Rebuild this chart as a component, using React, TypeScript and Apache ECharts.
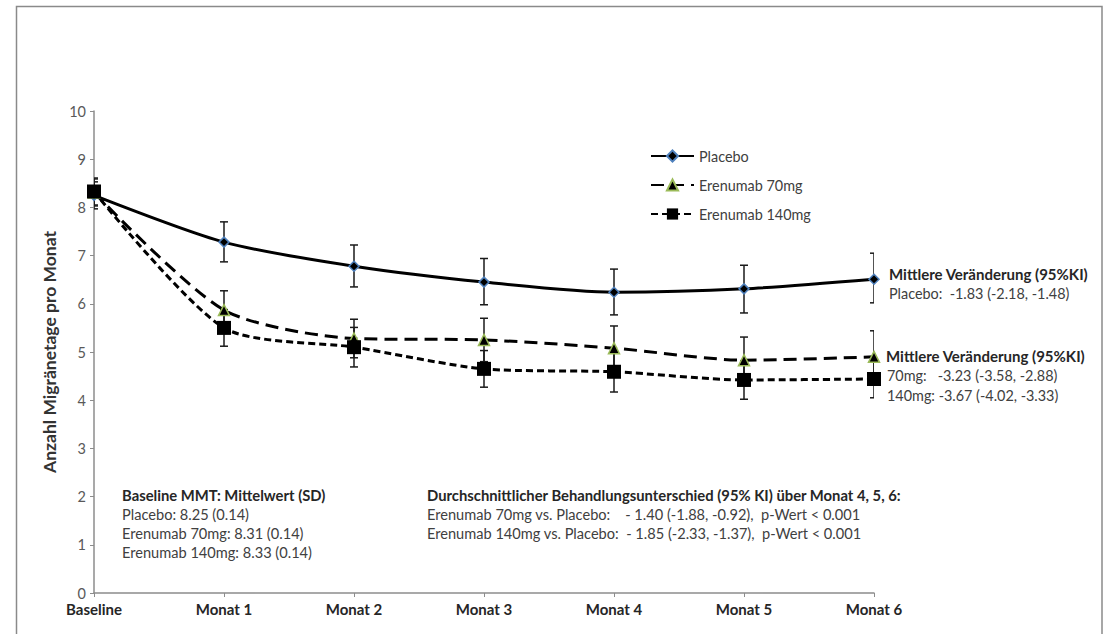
import React, { useEffect, useRef } from "react";
import * as echarts from "echarts";

const categories = ["Baseline", "Monat 1", "Monat 2", "Monat 3", "Monat 4", "Monat 5", "Monat 6"];
const yTicks = [0, 10, 1];

const placebo = [8.25, 7.28, 6.78, 6.45, 6.24, 6.31, 6.51];
const placeboLow = [7.97, 6.87, 6.35, 5.98, 5.77, 5.81, 6.02];
const placeboHigh = [8.53, 7.7, 7.22, 6.94, 6.72, 6.8, 7.05];

const erenumab70 = [8.31, 5.87, 5.28, 5.25, 5.08, 4.83, 4.9];
const erenumab70Low = [8.03, 5.47, 4.88, 4.8, 4.62, 4.35, 4.36];
const erenumab70High = [8.59, 6.27, 5.68, 5.7, 5.54, 5.31, 5.44];

const erenumab140 = [8.33, 5.5, 5.1, 4.65, 4.59, 4.42, 4.44];
const erenumab140Low = [8.05, 5.12, 4.69, 4.27, 4.17, 4.02, 4.05];
const erenumab140High = [8.61, 5.88, 5.51, 5.03, 5.01, 4.82, 4.83];

const seriesNames = ["Placebo", "Erenumab 70mg", "Erenumab 140mg"];

const FONT = "Lato";
const GRAY = "#404040";

function errorData(low: number[], high: number[]) {
  return low.map((l, i) => [i, l, high[i]]);
}

function errorSeries(low: number[], high: number[]) {
  return {
    type: "custom",
    clip: true,
    z: 1,
    silent: true,
    encode: { x: 0, y: [1, 2] },
    data: errorData(low, high),
    renderItem: (params: any, api: any) => {
      const x = api.value(0);
      const pLow = api.coord([x, api.value(1)]);
      const pHigh = api.coord([x, api.value(2)]);
      const w = 4;
      const st = { stroke: "#1a1a1a", lineWidth: 1.5 };
      return {
        type: "group",
        children: [
          { type: "line", shape: { x1: pHigh[0], y1: pHigh[1], x2: pLow[0], y2: pLow[1] }, style: st },
          { type: "line", shape: { x1: pHigh[0] - w, y1: pHigh[1], x2: pHigh[0] + w, y2: pHigh[1] }, style: st },
          { type: "line", shape: { x1: pLow[0] - w, y1: pLow[1], x2: pLow[0] + w, y2: pLow[1] }, style: st },
        ],
      };
    },
  };
}

function txt(x: number, y: number, text: string, bold = false, size = 14.6) {
  return {
    type: "text",
    x,
    y,
    style: {
      text,
      font: `${bold ? "bold " : ""}${size}px ${FONT}`,
      fill: bold ? "#262626" : GRAY,
      verticalAlign: "middle",
    },
  };
}

export default function App() {
  const ref = useRef<HTMLDivElement>(null);
  useEffect(() => {
    if (!ref.current) return;
    const chart = echarts.init(ref.current, undefined, { renderer: "svg" });
    chart.setOption({
      animation: false,
      backgroundColor: "#ffffff",
      textStyle: { fontFamily: FONT },
      grid: { left: 94, right: 232, top: 111, bottom: 41, containLabel: false },
      legend: {
        orient: "vertical",
        left: 645,
        top: 144,
        itemGap: 15,
        itemWidth: 43,
        itemHeight: 14,
        data: seriesNames,
        textStyle: { fontFamily: FONT, fontSize: 14.4, color: GRAY },
      },
      xAxis: {
        type: "category",
        data: categories,
        boundaryGap: false,
        axisLine: { lineStyle: { color: "#8c8c8c", width: 1.5 } },
        axisTick: { show: true, alignWithLabel: true, length: 4, lineStyle: { color: "#8c8c8c" } },
        axisLabel: { fontFamily: FONT, fontWeight: "bold", fontSize: 15, color: "#262626", margin: 8 },
        splitLine: { show: false },
      },
      yAxis: {
        type: "value",
        min: yTicks[0],
        max: yTicks[1],
        interval: yTicks[2],
        name: "Anzahl Migränetage pro Monat",
        nameLocation: "middle",
        nameGap: 36,
        nameTextStyle: { fontFamily: FONT, fontWeight: 700, fontSize: 17.5, color: "#333333" },
        axisLine: { show: true, lineStyle: { color: "#8c8c8c", width: 1.5 } },
        axisTick: { show: true, length: 4, lineStyle: { color: "#8c8c8c" } },
        axisLabel: { fontFamily: FONT, fontSize: 14.5, color: "#595959", margin: 8 },
        splitLine: { show: false },
      },
      graphic: [
        {
          type: "rect",
          shape: { x: 16.5, y: 6.5, width: 1085.5, height: 640 },
          style: { fill: "none", stroke: "#8a8a8a", lineWidth: 1.5 },
          silent: true,
        },
        txt(889, 274, "Mittlere Veränderung (95%KI)", true, 15),
        txt(889, 293, "Placebo:  -1.83 (-2.18, -1.48)", false, 14.4),
        txt(886, 356, "Mittlere Veränderung (95%KI)", true, 15),
        txt(887, 375, "70mg:   -3.23 (-3.58, -2.88)", false, 14.4),
        txt(887, 395, "140mg: -3.67 (-4.02, -3.33)", false, 14.4),
        txt(122, 495, "Baseline MMT: Mittelwert (SD)", true, 14.8),
        txt(122, 514, "Placebo: 8.25 (0.14)"),
        txt(122, 533, "Erenumab 70mg: 8.31 (0.14)"),
        txt(122, 552, "Erenumab 140mg: 8.33 (0.14)"),
        txt(427, 495, "Durchschnittlicher Behandlungsunterschied (95% KI) über Monat 4, 5, 6:", true, 14.8),
        txt(427, 514, "Erenumab 70mg vs. Placebo:    - 1.40 (-1.88, -0.92),  p-Wert < 0.001"),
        txt(427, 533, "Erenumab 140mg vs. Placebo:  - 1.85 (-2.33, -1.37),  p-Wert < 0.001"),
      ],
      series: [
        errorSeries(placeboLow, placeboHigh),
        errorSeries(erenumab70Low, erenumab70High),
        errorSeries(erenumab140Low, erenumab140High),
        {
          name: seriesNames[0],
          type: "line",
          data: placebo,
          smooth: 0.25,
          z: 3,
          symbol: "diamond",
          symbolSize: 10,
          lineStyle: { color: "#000", width: 3, type: "solid" },
          itemStyle: { color: "#000", borderColor: "#4F81BD", borderWidth: 1.5 },
        },
        {
          name: seriesNames[1],
          type: "line",
          data: erenumab70,
          smooth: 0.25,
          z: 3,
          symbol: "triangle",
          symbolSize: 11,
          lineStyle: { color: "#000", width: 3, type: [13, 7] },
          itemStyle: { color: "#000", borderColor: "#9BBB59", borderWidth: 1.5 },
        },
        {
          name: seriesNames[2],
          type: "line",
          data: erenumab140,
          smooth: 0.25,
          z: 3,
          symbol: "rect",
          symbolSize: 14,
          lineStyle: { color: "#000", width: 3, type: [7, 4] },
          itemStyle: { color: "#000" },
        },
      ],
    });
    return () => chart.dispose();
  }, []);
  return <div ref={ref} style={{ position: "fixed", left: 0, top: 0, width: 1106, height: 634 }} />;
}
